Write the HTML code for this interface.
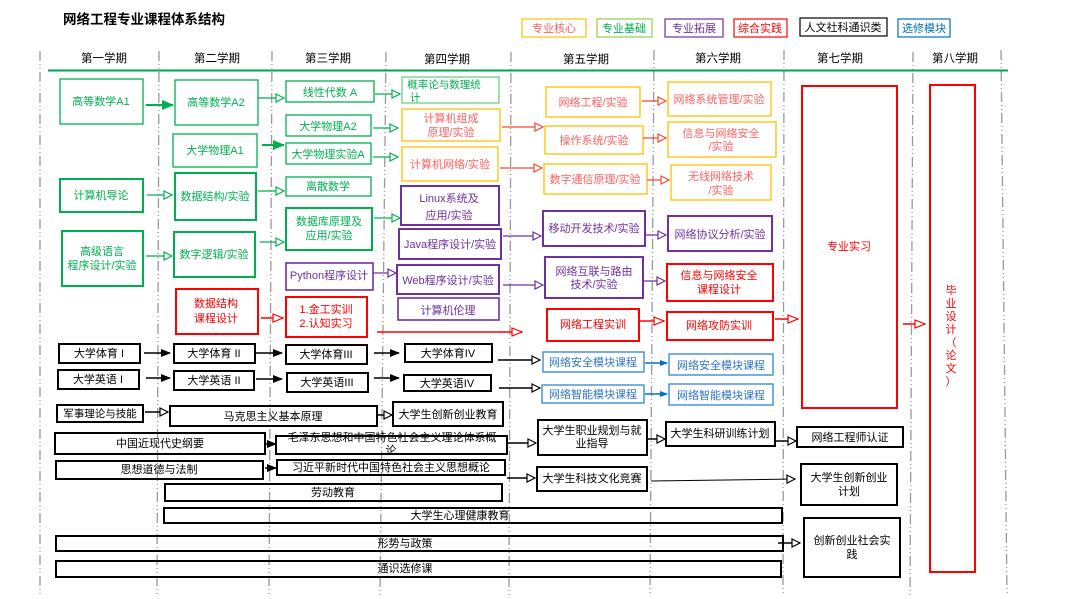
<!DOCTYPE html>
<html><head><meta charset="utf-8"><style>
html,body{margin:0;padding:0;background:#fff;}
svg{display:block;font-family:"Liberation Sans","Noto Sans CJK SC",sans-serif;}
</style></head><body>
<svg width="1070" height="599" viewBox="0 0 1070 599" xmlns="http://www.w3.org/2000/svg">
<defs>
<marker id="os" markerWidth="10" markerHeight="10" refX="9" refY="5" orient="auto" markerUnits="userSpaceOnUse"><path d="M1,1 L9,5 L1,9 Z" fill="#fff" stroke="context-stroke" stroke-width="1.2"/></marker>
<marker id="fs" markerWidth="10" markerHeight="10" refX="9" refY="5" orient="auto" markerUnits="userSpaceOnUse"><path d="M0,1 L10,5 L0,9 Z" fill="context-stroke"/></marker>
<marker id="og" markerWidth="10" markerHeight="10" refX="9" refY="5" orient="auto" markerUnits="userSpaceOnUse"><path d="M1,1 L9,5 L1,9 Z" fill="#fff" stroke="#00b050" stroke-width="1.2"/></marker>
<marker id="fg" markerWidth="12" markerHeight="10" refX="11" refY="5" orient="auto" markerUnits="userSpaceOnUse"><path d="M0,0 L12,5 L0,10 Z" fill="#00b050"/></marker>
<marker id="oo" markerWidth="10" markerHeight="10" refX="9" refY="5" orient="auto" markerUnits="userSpaceOnUse"><path d="M1,1 L9,5 L1,9 Z" fill="#fff" stroke="#f04a30" stroke-width="1.2"/></marker>
<marker id="or" markerWidth="12" markerHeight="10" refX="11" refY="5" orient="auto" markerUnits="userSpaceOnUse"><path d="M1,1 L11,5 L1,9 Z" fill="#fff" stroke="#ff0000" stroke-width="1.2"/></marker>
<marker id="op" markerWidth="10" markerHeight="10" refX="9" refY="5" orient="auto" markerUnits="userSpaceOnUse"><path d="M1,1 L9,5 L1,9 Z" fill="#fff" stroke="#7030a0" stroke-width="1.2"/></marker>
<marker id="ob" markerWidth="10" markerHeight="10" refX="9" refY="5" orient="auto" markerUnits="userSpaceOnUse"><path d="M1,1 L9,5 L1,9 Z" fill="#fff" stroke="#000" stroke-width="1.2"/></marker>
<marker id="fb" markerWidth="10" markerHeight="10" refX="9" refY="5" orient="auto" markerUnits="userSpaceOnUse"><path d="M0,1 L10,5 L0,9 Z" fill="#000"/></marker>
<marker id="fbl" markerWidth="8" markerHeight="8" refX="7" refY="4" orient="auto" markerUnits="userSpaceOnUse"><path d="M0,1 L8,4 L0,7 Z" fill="#0070c0"/></marker>
</defs>

<!-- title -->
<text x="63" y="24" font-size="13.5" font-weight="bold" fill="#000">网络工程专业课程体系结构</text>

<!-- legend -->
<g font-size="11" text-anchor="middle">
<rect x="522" y="19" width="64" height="18" fill="none" stroke="#ffc000" stroke-width="1.2"/><text x="554" y="32" fill="#ff6060">专业核心</text>
<rect x="597" y="19" width="55" height="18" fill="none" stroke="#92d050" stroke-width="1.2"/><text x="624" y="32" fill="#00b050">专业基础</text>
<rect x="665" y="19" width="58" height="18" fill="none" stroke="#7030a0" stroke-width="1.2"/><text x="694" y="32" fill="#7030a0">专业拓展</text>
<rect x="734" y="19" width="53" height="18" fill="none" stroke="#ff0000" stroke-width="1.2"/><text x="760" y="32" fill="#ff0000">综合实践</text>
<rect x="800" y="18" width="87" height="18" fill="none" stroke="#000" stroke-width="1.2"/><text x="843" y="31" fill="#000">人文社科通识类</text>
<rect x="898" y="19" width="52" height="18" fill="none" stroke="#0070c0" stroke-width="1.2"/><text x="924" y="32" fill="#0070c0">选修模块</text>
</g>

<!-- separators -->
<g stroke="#999" stroke-width="1.3" stroke-dasharray="10,3,1,3,1,3" fill="none">
<line x1="40" y1="51" x2="40" y2="597"/>
<line x1="159" y1="51" x2="157" y2="595"/>
<line x1="272" y1="51" x2="269" y2="595"/>
<line x1="386" y1="52" x2="380" y2="595"/>
<line x1="511" y1="52" x2="509" y2="595"/>
<line x1="654" y1="50" x2="650" y2="595"/>
<line x1="784" y1="50" x2="783" y2="595"/>
<line x1="913" y1="52" x2="910" y2="595"/>
<line x1="1001" y1="50" x2="1007" y2="595"/>
</g>
<line x1="48" y1="70.5" x2="1008" y2="70.5" stroke="#00a650" stroke-width="2"/>

<g font-size="11.5" text-anchor="middle" fill="#000">
<text x="104" y="62">第一学期</text><text x="217" y="62">第二学期</text><text x="328" y="62">第三学期</text><text x="447" y="63">第四学期</text><text x="586" y="63">第五学期</text><text x="718" y="62">第六学期</text><text x="840" y="62">第七学期</text><text x="955" y="62">第八学期</text>
</g>

<g font-size="11" text-anchor="middle">
<!-- green boxes -->
<g fill="none" stroke="#00b050">
<rect x="60" y="79" width="83" height="45" stroke-width="1.3"/>
<rect x="175" y="80" width="83" height="45" stroke-width="1.3"/>
<rect x="173" y="134" width="84" height="33" stroke-width="1.3"/>
<rect x="60" y="179" width="83" height="33" stroke-width="2"/>
<rect x="175" y="173" width="81" height="47" stroke-width="2"/>
<rect x="62" y="231" width="81" height="55" stroke-width="2"/>
<rect x="174" y="232" width="81" height="45" stroke-width="2"/>
<rect x="286" y="81" width="88" height="21" stroke-width="1.3"/>
<rect x="286" y="115" width="85" height="21" stroke-width="1.3"/>
<rect x="286" y="143" width="85" height="21" stroke-width="1.3"/>
<rect x="286" y="177" width="85" height="19" stroke-width="1.3"/>
<rect x="286" y="208" width="86" height="42" stroke-width="2"/>
<rect x="402" y="77" width="97" height="26" stroke="#6fcf8a" stroke-width="1.3"/>
</g>
<g fill="#00b050">
<text x="101" y="105">高等数学A1</text>
<text x="216" y="106">高等数学A2</text>
<text x="215" y="154">大学物理A1</text>
<text x="101" y="199">计算机导论</text>
<text x="215" y="200">数据结构/实验</text>
<text x="102" y="255">高级语言</text><text x="102" y="269">程序设计/实验</text>
<text x="214" y="258">数字逻辑/实验</text>
<text x="330" y="96">线性代数 A</text>
<text x="328" y="130">大学物理A2</text>
<text x="328" y="158">大学物理实验A</text>
<text x="328" y="190">离散数学</text>
<text x="329" y="225">数据库原理及</text><text x="329" y="239">应用/实验</text>
<text x="444" y="88" font-size="10.5">概率论与数理统</text><text x="410" y="101" font-size="10.5" text-anchor="start">计</text>
</g>

<!-- orange boxes -->
<g fill="none" stroke="#ffc000" stroke-width="1.3">
<rect x="402" y="109" width="98" height="32"/>
<rect x="402" y="147" width="96" height="34"/>
<rect x="546" y="87" width="94" height="30"/>
<rect x="545" y="126" width="98" height="28"/>
<rect x="544" y="164" width="103" height="30"/>
<rect x="668" y="82" width="103" height="34"/>
<rect x="668" y="122" width="108" height="35"/>
<rect x="671" y="165" width="100" height="35"/>
</g>
<g fill="#ff6060">
<text x="451" y="122">计算机组成</text><text x="451" y="136">原理/实验</text>
<text x="450" y="168">计算机网络/实验</text>
<text x="593" y="106">网络工程/实验</text>
<text x="594" y="144">操作系统/实验</text>
<text x="595" y="183">数字通信原理/实验</text>
<text x="719" y="103">网络系统管理/实验</text>
<text x="721" y="137">信息与网络安全</text><text x="721" y="150">/实验</text>
<text x="721" y="180">无线网络技术</text><text x="721" y="194">/实验</text>
</g>

<!-- purple boxes -->
<g fill="none" stroke="#7030a0" stroke-width="2">
<rect x="401" y="186" width="98" height="39"/>
<rect x="399" y="229" width="102" height="30"/>
<rect x="397" y="265" width="102" height="29"/>
<rect x="398" y="298" width="101" height="22" stroke-width="1.6"/>
<rect x="286" y="263" width="87" height="27" stroke-width="1.6"/>
<rect x="543" y="211" width="102" height="35"/>
<rect x="545" y="257" width="98" height="41"/>
<rect x="668" y="216" width="104" height="35"/>
</g>
<g fill="#7030a0">
<text x="449" y="202">Linux系统及</text><text x="449" y="219">应用/实验</text>
<text x="450" y="248">Java程序设计/实验</text>
<text x="448" y="284">Web程序设计/实验</text>
<text x="448" y="314">计算机伦理</text>
<text x="329" y="279">Python程序设计</text>
<text x="594" y="232">移动开发技术/实验</text>
<text x="594" y="275">网络互联与路由</text><text x="594" y="288">技术/实验</text>
<text x="720" y="238">网络协议分析/实验</text>
</g>

<!-- red boxes -->
<g fill="none" stroke="#ff0000" stroke-width="2">
<rect x="176" y="289" width="82" height="45"/>
<rect x="286" y="297" width="81" height="40"/>
<rect x="547" y="309" width="92" height="32"/>
<rect x="667" y="264" width="106" height="37"/>
<rect x="667" y="312" width="106" height="28"/>
<rect x="802" y="86" width="95" height="322"/>
<rect x="930" y="85" width="45" height="487"/>
</g>
<g fill="#ff0000">
<text x="216" y="307">数据结构</text><text x="216" y="322">课程设计</text>
<text x="326" y="313">1.金工实训</text><text x="326" y="327">2.认知实习</text>
<text x="593" y="328">网络工程实训</text>
<text x="719" y="279">信息与网络安全</text><text x="719" y="293">课程设计</text>
<text x="719" y="329">网络攻防实训</text>
<text x="849" y="250">专业实习</text>
<text x="951" y="294">毕</text><text x="951" y="307">业</text><text x="951" y="320">设</text><text x="951" y="333">计</text><text x="951" y="346">（</text><text x="951" y="359">论</text><text x="951" y="372">文</text><text x="951" y="385">）</text>
</g>

<!-- blue boxes -->
<g fill="none" stroke="#2e86d0" stroke-width="1.3">
<rect x="543" y="352" width="101" height="20"/>
<rect x="542" y="385" width="102" height="18"/>
<rect x="669" y="354" width="104" height="21"/>
<rect x="669" y="384" width="104" height="21"/>
</g>
<g fill="#2e75d0">
<text x="593" y="366">网络安全模块课程</text>
<text x="593" y="398">网络智能模块课程</text>
<text x="721" y="369">网络安全模块课程</text>
<text x="721" y="399">网络智能模块课程</text>
</g>

<!-- black boxes -->
<g fill="none" stroke="#000" stroke-width="2">
<rect x="59" y="344" width="81" height="19"/>
<rect x="58" y="370" width="81" height="19"/>
<rect x="174" y="344" width="81" height="19"/>
<rect x="174" y="371" width="80" height="19"/>
<rect x="286" y="345" width="81" height="19"/>
<rect x="287" y="373" width="81" height="19"/>
<rect x="405" y="344" width="87" height="18"/>
<rect x="404" y="375" width="87" height="16"/>
<rect x="57" y="405" width="86" height="17"/>
<rect x="170" y="406" width="207" height="20"/>
<rect x="393" y="402" width="110" height="24"/>
<rect x="55" y="433" width="210" height="21"/>
<rect x="276" y="436" width="231" height="18"/>
<rect x="56" y="461" width="207" height="18"/>
<rect x="277" y="460" width="228" height="15"/>
<rect x="165" y="484" width="337" height="17"/>
<rect x="164" y="508" width="618" height="15"/>
<rect x="56" y="536" width="727" height="15"/>
<rect x="56" y="561" width="725" height="16"/>
<rect x="538" y="420" width="109" height="35"/>
<rect x="537" y="467" width="110" height="24"/>
<rect x="666" y="422" width="109" height="24"/>
<rect x="797" y="427" width="106" height="20"/>
<rect x="801" y="464" width="96" height="41"/>
<rect x="804" y="518" width="96" height="59"/>
</g>
<g fill="#000">
<text x="99" y="357">大学体育 I</text>
<text x="98" y="383">大学英语 I</text>
<text x="214" y="357">大学体育 II</text>
<text x="214" y="384">大学英语 II</text>
<text x="326" y="358">大学体育III</text>
<text x="327" y="386">大学英语III</text>
<text x="448" y="357">大学体育IV</text>
<text x="447" y="387">大学英语IV</text>
<text x="100" y="417" font-size="10.5">军事理论与技能</text>
<text x="273" y="420">马克思主义基本原理</text>
<text x="448" y="418">大学生创新创业教育</text>
<text x="160" y="447">中国近现代史纲要</text>
<text x="392" y="441">毛泽东思想和中国特色社会主义理论体系概</text><text x="391" y="454">论</text>
<text x="159" y="473">思想道德与法制</text>
<text x="391" y="471">习近平新时代中国特色社会主义思想概论</text>
<text x="333" y="496">劳动教育</text>
<text x="460" y="519">大学生心理健康教育</text>
<text x="405" y="547">形势与政策</text>
<text x="405" y="572">通识选修课</text>
<text x="592" y="434">大学生职业规划与就</text><text x="592" y="447">业指导</text>
<text x="592" y="482">大学生科技文化竞赛</text>
<text x="720" y="437">大学生科研训练计划</text>
<text x="850" y="441">网络工程师认证</text>
<text x="849" y="481">大学生创新创业</text><text x="849" y="495">计划</text>
<text x="852" y="544">创新创业社会实</text><text x="852" y="558">践</text>
</g>
</g>

<!-- arrows -->
<g fill="none">
<g stroke="#00b050" stroke-width="1.2">
<line x1="146" y1="105" x2="173" y2="105" stroke-width="2" marker-end="url(#fg)"/>
<line x1="262" y1="145" x2="284" y2="145" stroke-width="2" marker-end="url(#fg)"/>
<line x1="258" y1="98" x2="284" y2="98" marker-end="url(#og)"/>
<line x1="147" y1="195" x2="172" y2="195" marker-end="url(#og)"/>
<line x1="258" y1="191" x2="284" y2="191" marker-end="url(#og)"/>
<line x1="146" y1="256" x2="172" y2="256" marker-end="url(#og)"/>
<line x1="260" y1="242" x2="284" y2="242" marker-end="url(#og)"/>
<line x1="375" y1="94" x2="400" y2="94" marker-end="url(#og)"/>
<line x1="373" y1="128" x2="398" y2="128" marker-end="url(#og)"/>
<line x1="373" y1="157" x2="398" y2="157" marker-end="url(#og)"/>
<line x1="374" y1="218" x2="400" y2="218" marker-end="url(#og)"/>
</g>
<g stroke="#f04a30" stroke-width="1.2">
<line x1="502" y1="127" x2="543" y2="127" marker-end="url(#oo)"/>
<line x1="500" y1="168" x2="542" y2="168" marker-end="url(#oo)"/>
<line x1="642" y1="101" x2="666" y2="101" marker-end="url(#oo)"/>
<line x1="643" y1="138" x2="666" y2="138" marker-end="url(#oo)"/>
<line x1="647" y1="180" x2="669" y2="180" marker-end="url(#oo)"/>
</g>
<g stroke="#7030a0" stroke-width="1.2">
<line x1="373" y1="273" x2="396" y2="273" marker-end="url(#op)"/>
<line x1="503" y1="236" x2="541" y2="236" marker-end="url(#op)"/>
<line x1="503" y1="285" x2="543" y2="285" marker-end="url(#op)"/>
<line x1="645" y1="235" x2="666" y2="235" marker-end="url(#op)"/>
<line x1="643" y1="281" x2="665" y2="281" marker-end="url(#op)"/>
</g>
<g stroke="#ff0000" stroke-width="1.5">
<line x1="261" y1="318" x2="283" y2="318" marker-end="url(#or)"/>
<line x1="377" y1="332" x2="522" y2="332" marker-end="url(#or)"/>
<line x1="640" y1="321" x2="664" y2="321" marker-end="url(#or)"/>
<line x1="775" y1="319" x2="798" y2="319" marker-end="url(#or)"/>
<line x1="903" y1="324" x2="925" y2="324" marker-end="url(#or)"/>
</g>
<g stroke="#0070c0" stroke-width="1.5">
<line x1="645" y1="363" x2="667" y2="363" marker-end="url(#fbl)"/>
<line x1="645" y1="394" x2="667" y2="394" marker-end="url(#fbl)"/>
</g>
<g stroke="#000" stroke-width="1.5">
<line x1="144" y1="353" x2="170" y2="353" marker-end="url(#fb)"/>
<line x1="256" y1="353" x2="282" y2="353" marker-end="url(#fb)"/>
<line x1="374" y1="353" x2="399" y2="353" marker-end="url(#fb)"/>
<line x1="146" y1="378" x2="170" y2="378" marker-end="url(#fb)"/>
<line x1="256" y1="379" x2="282" y2="379" marker-end="url(#fb)"/>
<line x1="374" y1="378" x2="399" y2="378" marker-end="url(#fb)"/>
<line x1="266" y1="444" x2="276" y2="444" marker-end="url(#fb)"/>
<line x1="265" y1="468" x2="276" y2="468" marker-end="url(#fb)"/>
<line x1="498" y1="360" x2="540" y2="360" marker-end="url(#ob)"/>
<line x1="499" y1="388" x2="540" y2="388" marker-end="url(#ob)"/>
<line x1="145" y1="412" x2="168" y2="412" marker-end="url(#ob)"/>
<line x1="378" y1="415" x2="392" y2="415" marker-end="url(#ob)"/>
<line x1="507" y1="443" x2="536" y2="443" marker-end="url(#ob)"/>
<line x1="507" y1="478" x2="535" y2="478" marker-end="url(#ob)"/>
<line x1="648" y1="439" x2="665" y2="439" marker-end="url(#ob)"/>
<line x1="775" y1="441" x2="796" y2="441" marker-end="url(#ob)"/>
<line x1="778" y1="543" x2="800" y2="543" marker-end="url(#ob)"/>
<line x1="651" y1="481" x2="795" y2="479" stroke-width="1" marker-end="url(#ob)"/>
</g>
</g>
</svg>
</body></html>
